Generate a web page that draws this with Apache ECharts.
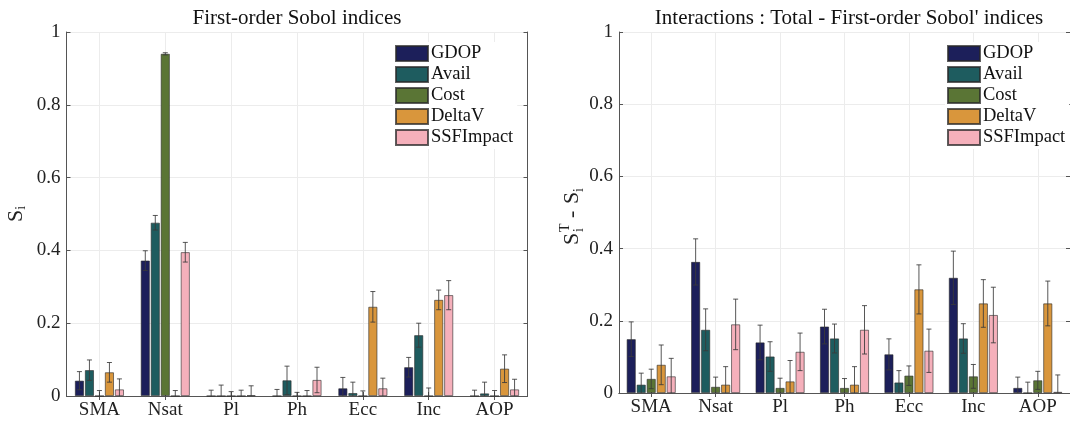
<!DOCTYPE html>
<html>
<head>
<meta charset="utf-8">
<script src="https://cdn.jsdelivr.net/npm/echarts@6/dist/echarts.min.js"></script>
<style>
html,body{margin:0;padding:0;background:#fff;}
#chart{width:1070px;height:421px;}
</style>
</head>
<body>
<div id="chart"></div>
<script>
// ---------- data ----------
const categories = ['SMA', 'Nsat', 'Pl', 'Ph', 'Ecc', 'Inc', 'AOP'];
const seriesNames = ['GDOP', 'Avail', 'Cost', 'DeltaV', 'SSFImpact'];
const yTicks = [0, 0.2, 0.4, 0.6, 0.8, 1];

// First-order Sobol indices (value, half-width of error bar)
const gdopFirst      = [0.042, 0.372, 0.000, 0.000, 0.021, 0.079, 0.000];
const gdopFirstErr   = [0.025, 0.027, 0.016, 0.018, 0.030, 0.027, 0.016];
const availFirst     = [0.071, 0.476, 0.000, 0.043, 0.008, 0.167, 0.007];
const availFirstErr  = [0.028, 0.020, 0.030, 0.039, 0.030, 0.033, 0.031];
const costFirst      = [0.000, 0.940, 0.000, 0.000, 0.000, 0.000, 0.000];
const costFirstErr   = [0.015, 0.003, 0.012, 0.010, 0.014, 0.022, 0.015];
const deltaVFirst    = [0.065, 0.000, 0.000, 0.000, 0.245, 0.264, 0.075];
const deltaVFirstErr = [0.027, 0.015, 0.016, 0.015, 0.042, 0.027, 0.038];
const ssfFirst       = [0.018, 0.395, 0.002, 0.044, 0.021, 0.277, 0.018];
const ssfFirstErr    = [0.029, 0.027, 0.026, 0.035, 0.028, 0.040, 0.028];

// Interactions: Total - First-order
const gdopInter      = [0.149, 0.363, 0.140, 0.184, 0.107, 0.319, 0.014];
const gdopInterErr   = [0.048, 0.064, 0.048, 0.048, 0.043, 0.074, 0.030];
const availInter     = [0.023, 0.175, 0.101, 0.151, 0.029, 0.151, 0.000];
const availInterErr  = [0.032, 0.058, 0.041, 0.040, 0.033, 0.041, 0.030];
const costInter      = [0.039, 0.017, 0.014, 0.014, 0.048, 0.046, 0.035];
const costInterErr   = [0.027, 0.027, 0.027, 0.026, 0.027, 0.033, 0.025];
const deltaVInter    = [0.078, 0.023, 0.032, 0.023, 0.287, 0.248, 0.248];
const deltaVInterErr = [0.055, 0.050, 0.058, 0.050, 0.068, 0.066, 0.062];
const ssfInter       = [0.046, 0.190, 0.114, 0.175, 0.117, 0.216, 0.003];
const ssfInterErr    = [0.050, 0.070, 0.052, 0.067, 0.060, 0.077, 0.047];

// ---------- styling ----------
const colors = ['#1c1f5a', '#1e5c5f', '#5a7535', '#d9963c', '#f5b0bb'];
const FONT = '"Liberation Serif", "DejaVu Serif", serif';
const BAR_W = 9, BAR_PITCH = 10;

const firstVals = [gdopFirst, availFirst, costFirst, deltaVFirst, ssfFirst];
const firstErrs = [gdopFirstErr, availFirstErr, costFirstErr, deltaVFirstErr, ssfFirstErr];
const interVals = [gdopInter, availInter, costInter, deltaVInter, ssfInter];
const interErrs = [gdopInterErr, availInterErr, costInterErr, deltaVInterErr, ssfInterErr];

const chart = echarts.init(document.getElementById('chart'), null, {renderer: 'canvas'});

function makeAxes(gi) {
  const xMain = {
    type: 'category', gridIndex: gi, data: categories, position: 'bottom',
    axisLine: {show: true, onZero: false, lineStyle: {color: '#555', width: 1}},
    axisTick: {show: true, inside: true, alignWithLabel: true, length: 4, lineStyle: {color: '#555'}},
    axisLabel: {color: '#222', fontFamily: FONT, fontSize: 19, margin: 5},
    splitLine: {show: true, alignWithLabel: true, lineStyle: {color: '#ececec', width: 1}}
  };
  const xTop = {
    type: 'category', gridIndex: gi, data: categories, position: 'top',
    axisLine: {show: true, lineStyle: {color: '#555', width: 1}},
    axisTick: {show: true, inside: true, alignWithLabel: true, length: 4, lineStyle: {color: '#555'}},
    axisLabel: {show: false}, splitLine: {show: false}
  };
  const yMain = {
    type: 'value', gridIndex: gi, min: 0, max: 1, interval: 0.2, position: 'left',
    axisLine: {show: true, lineStyle: {color: '#555', width: 1}},
    axisTick: {show: true, inside: true, length: 4, lineStyle: {color: '#555'}},
    axisLabel: {color: '#222', fontFamily: FONT, fontSize: 19, margin: 6,
      formatter: v => String(+v.toFixed(1))},
    splitLine: {show: true, lineStyle: {color: '#ececec', width: 1}}
  };
  const yRight = {
    type: 'value', gridIndex: gi, min: 0, max: 1, interval: 0.2, position: 'right',
    axisLine: {show: true, lineStyle: {color: '#555', width: 1}},
    axisTick: {show: true, inside: true, length: 4, lineStyle: {color: '#555'}},
    axisLabel: {show: false}, splitLine: {show: false}
  };
  return {xMain, xTop, yMain, yRight};
}

const a0 = makeAxes(0), a1 = makeAxes(1);
a0.yMain.name = '{s|S}{i|i}';
a0.yMain.nameLocation = 'middle';
a0.yMain.nameGap = 38;
a0.yMain.nameTextStyle = {
  fontFamily: FONT, color: '#222',
  rich: {
    s: {fontFamily: FONT, fontSize: 22, color: '#222'},
    i: {fontFamily: FONT, fontSize: 14, color: '#222', padding: [10, 0, 0, 0]}
  }
};

const xAxes = [a0.xMain, a0.xTop, a1.xMain, a1.xTop];
const yAxes = [a0.yMain, a0.yRight, a1.yMain, a1.yRight];

function errRender(seriesIdx) {
  return function (params, api) {
    const idx = api.value(0), v = api.value(1), e = api.value(2);
    const off = (seriesIdx - 2) * BAR_PITCH;
    const top = api.coord([idx, v + e]);
    const lowVal = Math.max(0, v - e);
    const bot = api.coord([idx, lowVal]);
    const x = top[0] + off;
    const cap = 2.5;
    const style = {stroke: '#3a3a3a', lineWidth: 1, opacity: 0.85};
    const children = [
      {type: 'line', shape: {x1: x, y1: top[1], x2: x, y2: bot[1]}, style},
      {type: 'line', shape: {x1: x - cap, y1: top[1], x2: x + cap, y2: top[1]}, style}
    ];
    if (v - e > 0) {
      children.push({type: 'line', shape: {x1: x - cap, y1: bot[1], x2: x + cap, y2: bot[1]}, style});
    }
    return {type: 'group', children};
  };
}

const series = [];
[[firstVals, firstErrs, 0], [interVals, interErrs, 1]].forEach(([vals, errs, gi]) => {
  seriesNames.forEach((name, s) => {
    series.push({
      name, type: 'bar', xAxisIndex: gi * 2, yAxisIndex: gi * 2,
      data: vals[s], barWidth: BAR_W, barGap: '11.1%',
      itemStyle: {color: colors[s], borderColor: 'rgba(40,40,40,0.75)', borderWidth: 0.8},
      emphasis: {disabled: true}, z: 2
    });
  });
  seriesNames.forEach((name, s) => {
    series.push({
      name: name + ' error', type: 'custom', xAxisIndex: gi * 2, yAxisIndex: gi * 2,
      data: vals[s].map((v, i) => [i, v, errs[s][i]]),
      encode: {x: 0, y: 1},
      renderItem: errRender(s), z: 5, silent: true
    });
  });
});

const legendCommon = {
  orient: 'vertical', data: seriesNames, icon: 'rect',
  itemWidth: 32, itemHeight: 15, itemGap: 2,
  textStyle: {fontFamily: FONT, fontSize: 18.5, color: '#111', padding: [0, 0, 0, -2]},
  backgroundColor: '#fff', padding: [2, 4, 2, 2], selectedMode: false
};

const option = {
  backgroundColor: '#fff',
  animation: false,
  color: colors,
  textStyle: {fontFamily: FONT},
  title: [
    {text: 'First-order Sobol indices', left: 292, top: 3, textAlign: 'center',
      textStyle: {fontFamily: FONT, fontSize: 21, fontWeight: 'normal', color: '#111'}},
    {text: "Interactions : Total - First-order Sobol' indices", left: 844, top: 3, textAlign: 'center',
      textStyle: {fontFamily: FONT, fontSize: 21, fontWeight: 'normal', color: '#111'}}
  ],
  legend: [
    Object.assign({left: 393, top: 42}, legendCommon),
    Object.assign({left: 945, top: 42}, legendCommon)
  ],
  grid: [
    {left: 66.5, top: 32, width: 461, bottom: 25, containLabel: false},
    {left: 619, top: 32, width: 460, bottom: 28, containLabel: false}
  ],
  xAxis: xAxes,
  yAxis: yAxes,
  series,
  graphic: [{
    type: 'group', x: 572, y: 213, rotation: Math.PI / 2,
    children: [
      {type: 'text', x: -32, y: 0, style: {text: 'S', font: '22px "Liberation Serif"', fill: '#222', verticalAlign: 'middle'}},
      {type: 'text', x: -19, y: -7, style: {text: 'T', font: '14px "Liberation Serif"', fill: '#222', verticalAlign: 'middle'}},
      {type: 'text', x: -19, y: 7, style: {text: 'i', font: '14px "Liberation Serif"', fill: '#222', verticalAlign: 'middle'}},
      {type: 'text', x: -5, y: 0, style: {text: '-', font: '22px "Liberation Serif"', fill: '#222', verticalAlign: 'middle'}},
      {type: 'text', x: 9, y: 0, style: {text: 'S', font: '22px "Liberation Serif"', fill: '#222', verticalAlign: 'middle'}},
      {type: 'text', x: 21, y: 7, style: {text: 'i', font: '14px "Liberation Serif"', fill: '#222', verticalAlign: 'middle'}}
    ]
  }]
};

chart.setOption(option);
</script>
</body>
</html>
